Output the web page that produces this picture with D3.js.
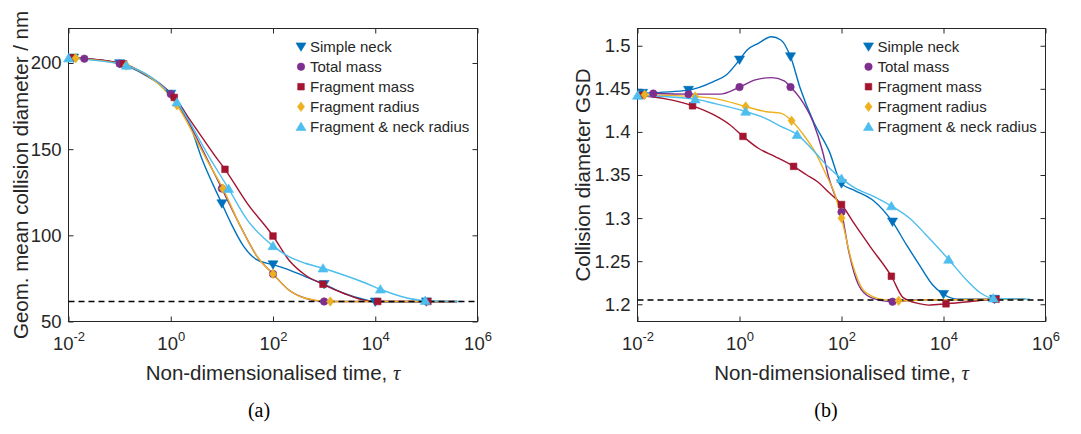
<!DOCTYPE html>
<html>
<head>
<meta charset="utf-8">
<script src="https://cdn.jsdelivr.net/npm/d3@7"></script>
<style>
  body { margin: 0; background: #fff; }
  svg { display: block; }
  text { font-family: "Liberation Sans", Arial, sans-serif; fill: #262626; }
</style>
</head>
<body>
<svg id="fig" width="1081" height="434"></svg>
<script>
// ---- series definitions ----
const seriesNames   = ["Simple neck", "Total mass", "Fragment mass", "Fragment radius", "Fragment & neck radius"];
const seriesColors  = ["#0072BD", "#7E2F8E", "#A2142F", "#EDB120", "#4DBEEE"];
const seriesSymbols = ["triDown", "circle", "square", "diamond", "triUp"];

// times at which each model was sampled (marker positions)
const markTauNeck = [0.0126, 0.1, 1, 10, 100, 1000, 10000, 100000];
const markTauMass = [0.0204, 0.1, 1, 10, 100, 1000];
const markTauFrag = [0.012, 0.12, 1.17, 11.5, 100, 950, 11200, 107000];
const markTauRad  = [0.0138, 0.135, 1.32, 10.5, 100, 1320];
const markTauFnr  = [0.01, 0.135, 1.32, 13.5, 100, 950, 12600, 95000];

// ---- (a) geometric mean collision diameter / nm ----
const diamTauNeck = [0.0126, 0.1, 0.316, 1, 2.0, 4.17, 10, 15.1, 26.9, 49, 100, 204, 427, 1000, 2400, 6610, 10000, 100000, 398000];
const diamNeck    = [203, 199.7, 193, 182, 170, 143.5, 118.4, 106.9, 93.4, 85.7, 83, 80, 76, 71.6, 66.4, 62.5, 61.4, 61.5, 61.5];
const diamTauMass = [0.0204, 0.1, 0.316, 1, 2.0, 5.01, 10, 23.4, 49, 100, 204, 427, 1000, 3160, 398000];
const diamMass    = [202.5, 199.6, 193.5, 182, 168, 145, 127.1, 104.9, 87.6, 77.6, 68.3, 63.5, 61.6, 61.6, 61.6];
const diamTauFrag = [0.012, 0.12, 0.316, 1.17, 2.51, 8.51, 11.5, 31.6, 100, 204, 427, 950, 2400, 6610, 11200, 107000, 398000];
const diamFrag    = [203, 199.5, 193.5, 180, 166, 143.5, 138.3, 118.4, 99.6, 85.7, 77, 71.6, 66.4, 62.1, 61.6, 61.6, 61.6];
const diamTauRad  = [0.0138, 0.135, 1.32, 5.13, 10.5, 23.4, 49, 100, 204, 427, 1320, 10000, 398000];
const diamRad     = [202.8, 198.5, 175.5, 143.5, 127.1, 104.9, 87.6, 77.6, 68.3, 63.5, 61.6, 61.6, 61.6];
const diamTauFnr  = [0.01, 0.135, 1.32, 6.17, 13.5, 31.6, 100, 204, 427, 950, 2400, 6610, 12600, 32400, 95000, 501000];
const diamFnr     = [202.8, 198.5, 177.2, 143.5, 127.1, 108.8, 93.9, 87.6, 83.8, 80.9, 77, 72.2, 68.7, 64.5, 62.1, 61.6];
const diamPlateau = 61.6;
const diamTicks   = [50, 100, 150, 200];

// ---- (b) collision diameter GSD ----
const gsdTauNeck = [0.0126, 0.1, 0.309, 0.55, 1, 1.41, 2.34, 4.22, 6.46, 10, 15.5, 28.2, 57.5, 100, 182, 437, 1000, 1860, 3310, 6030, 10000, 19100, 100000, 398000];
const gsdNeck    = [1.445, 1.4485, 1.4584, 1.466, 1.4836, 1.495, 1.5028, 1.5105, 1.5067, 1.4874, 1.4507, 1.412, 1.3774, 1.34, 1.332, 1.3196, 1.2956, 1.2694, 1.2463, 1.223, 1.2116, 1.206, 1.206, 1.206];
const gsdTauMass = [0.0204, 0.1, 0.417, 1, 2.04, 4.22, 7.52, 10, 15.5, 27.5, 42.7, 57.5, 75.9, 100, 138, 214, 380, 1000, 3160, 398000];
const gsdMass    = [1.4445, 1.4438, 1.4438, 1.452, 1.4604, 1.463, 1.4593, 1.452, 1.439, 1.412, 1.377, 1.345, 1.325, 1.307, 1.262, 1.223, 1.2077, 1.203, 1.205, 1.206];
const gsdTauFrag = [0.012, 0.0355, 0.12, 0.309, 0.646, 1.17, 2.34, 4.9, 11.5, 20.9, 32.4, 56.2, 100, 182, 380, 950, 1620, 3310, 5130, 11200, 31600, 107000, 398000];
const gsdFrag    = [1.4423, 1.4384, 1.4303, 1.42, 1.4083, 1.3948, 1.381, 1.3716, 1.36, 1.35, 1.343, 1.33, 1.3157, 1.2926, 1.2655, 1.2325, 1.2077, 1.2007, 1.199, 1.2005, 1.203, 1.2058, 1.206];
const gsdTauRad  = [0.0138, 0.135, 0.355, 1.32, 3.16, 6.46, 10.5, 17.8, 32.4, 50.1, 70.8, 100, 158, 282, 589, 1320, 3980, 398000];
const gsdRad     = [1.443, 1.441, 1.4384, 1.4295, 1.4237, 1.4218, 1.413, 1.397, 1.3736, 1.35, 1.331, 1.3, 1.25, 1.215, 1.206, 1.204, 1.205, 1.206];
const gsdTauFnr  = [0.01, 0.135, 0.309, 1.32, 3.16, 6.46, 13.5, 27.5, 57.5, 100, 182, 437, 950, 2140, 4470, 12600, 29500, 52500, 95000, 501000];
const gsdFnr     = [1.4423, 1.438, 1.4333, 1.4237, 1.416, 1.4064, 1.3968, 1.379, 1.358, 1.3458, 1.335, 1.325, 1.314, 1.3, 1.281, 1.252, 1.227, 1.2134, 1.207, 1.206];
const gsdPlateau = 1.205;
const gsdTicks   = [1.2, 1.25, 1.3, 1.35, 1.4, 1.45, 1.5];

// ---- shared x axis ----
const tauDomain = [1e-2, 1e6];
const tauTicks  = [1e-2, 1e0, 1e2, 1e4, 1e6];
const tauExps   = ["-2", "0", "2", "4", "6"];

const zip = (t, v) => t.map((d, i) => [d, v[i]]);
const markTaus = [markTauNeck, markTauMass, markTauFrag, markTauRad, markTauFnr];

const panels = [
  {
    left: 68.5, right: 477.5, yDomain: [50, 220], yTicks: diamTicks,
    series: [zip(diamTauNeck, diamNeck), zip(diamTauMass, diamMass), zip(diamTauFrag, diamFrag), zip(diamTauRad, diamRad), zip(diamTauFnr, diamFnr)],
    plateau: diamPlateau,
    ylabel: "Geom. mean collision diameter / nm", ylabelX: 28,
    caption: "(a)", captionX: 259, legendX: 301
  },
  {
    left: 637.5, right: 1045.5, yDomain: [1.18, 1.52], yTicks: gsdTicks,
    series: [zip(gsdTauNeck, gsdNeck), zip(gsdTauMass, gsdMass), zip(gsdTauFrag, gsdFrag), zip(gsdTauRad, gsdRad), zip(gsdTauFnr, gsdFnr)],
    plateau: gsdPlateau,
    ylabel: "Collision diameter GSD", ylabelX: 590,
    caption: "(b)", captionX: 826, legendX: 868.5
  }
];

const plotTop = 28.5, plotBottom = 321.5;
const axisColor = "#262626";

function markerPath(sym) {
  switch (sym) {
    case "triDown": return "M-5,-3.8L5,-3.8L0,4.6Z";
    case "triUp":   return "M-5,3.8L5,3.8L0,-4.6Z";
    case "circle":  return d3.symbol(d3.symbolCircle, 44)();
    case "square":  return "M-3.3,-3.3H3.3V3.3H-3.3Z";
    case "diamond": return "M0,-4.8L3.6,0L0,4.8L-3.6,0Z";
  }
}

const svg = d3.select("#fig");

panels.forEach(p => {
  const x = d3.scaleLog().domain(tauDomain).range([p.left, p.right]);
  const y = d3.scaleLinear().domain(p.yDomain).range([plotBottom, plotTop]);
  const g = svg.append("g");

  // axes: ticks point inward on all four sides
  const bx = g.append("g").attr("transform", `translate(0,${plotBottom})`)
    .call(d3.axisBottom(x).tickValues(tauTicks).tickSizeInner(-5).tickSizeOuter(0).tickPadding(8).tickFormat(""));
  bx.selectAll(".tick text").each(function(d, i) {
    const t = d3.select(this).attr("font-size", 18.5).attr("dy", "1.1em").attr("fill", axisColor);
    t.append("tspan").text("10");
    t.append("tspan").text(tauExps[i]).attr("font-size", 13).attr("dy", -9);
  });
  g.append("g").attr("transform", `translate(0,${plotTop})`)
    .call(d3.axisTop(x).tickValues(tauTicks).tickSizeInner(-5).tickSizeOuter(0).tickFormat(""));
  const ly = g.append("g").attr("transform", `translate(${p.left},0)`)
    .call(d3.axisLeft(y).tickValues(p.yTicks).tickSizeInner(-5).tickSizeOuter(0).tickPadding(7).tickFormat(d => String(d)));
  ly.selectAll(".tick text").attr("font-size", 18.5).attr("fill", axisColor);
  g.append("g").attr("transform", `translate(${p.right},0)`)
    .call(d3.axisRight(y).tickValues(p.yTicks).tickSizeInner(-5).tickSizeOuter(0).tickFormat(""));
  g.selectAll(".domain").remove();
  g.selectAll(".tick line").attr("stroke", axisColor);
  g.selectAll("g").attr("font-family", null);
  g.append("rect")
    .attr("x", p.left).attr("y", plotTop)
    .attr("width", p.right - p.left).attr("height", plotBottom - plotTop)
    .attr("fill", "none").attr("stroke", axisColor).attr("stroke-width", 1);

  // model curves
  const line = d3.line().x(d => x(d[0])).y(d => y(d[1])).curve(d3.curveMonotoneX);
  p.series.forEach((s, i) => {
    g.append("path").datum(s)
      .attr("d", line)
      .attr("fill", "none")
      .attr("stroke", seriesColors[i])
      .attr("stroke-width", 1.4);
  });

  // final (self-preserving) value
  g.append("line")
    .attr("x1", p.left).attr("x2", p.right)
    .attr("y1", y(p.plateau)).attr("y2", y(p.plateau))
    .attr("stroke", "#000").attr("stroke-width", 1.6).attr("stroke-dasharray", "6,4");

  // sampled points
  p.series.forEach((s, i) => {
    const pts = s.filter(d => markTaus[i].includes(d[0]));
    g.selectAll(null).data(pts).enter().append("path")
      .attr("d", markerPath(seriesSymbols[i]))
      .attr("transform", d => `translate(${x(d[0])},${y(d[1])})`)
      .attr("fill", seriesColors[i])
      .attr("stroke", seriesColors[i])
      .attr("stroke-width", 0.6);
  });

  // legend
  const lg = g.append("g");
  seriesNames.forEach((name, i) => {
    const cy = 46.7 + i * 20;
    lg.append("path").attr("d", markerPath(seriesSymbols[i]))
      .attr("transform", `translate(${p.legendX},${cy})`)
      .attr("fill", seriesColors[i]).attr("stroke", seriesColors[i]).attr("stroke-width", 0.6);
    lg.append("text").attr("x", p.legendX + 9).attr("y", cy + 5.5)
      .attr("font-size", 15).text(name);
  });

  // axis titles
  const xl = g.append("text")
    .attr("x", (p.left + p.right) / 2).attr("y", 380)
    .attr("text-anchor", "middle").attr("font-size", 20.5);
  xl.append("tspan").text("Non-dimensionalised time, ");
  xl.append("tspan").text("τ")
    .style("font-family", "'Liberation Serif', 'DejaVu Serif', serif")
    .style("font-style", "italic");
  g.append("text")
    .attr("transform", `translate(${p.ylabelX},${(plotTop + plotBottom) / 2}) rotate(-90)`)
    .attr("text-anchor", "middle").attr("font-size", 20.5)
    .text(p.ylabel);

  g.append("text")
    .attr("x", p.captionX).attr("y", 417)
    .attr("text-anchor", "middle").attr("font-size", 20)
    .style("font-family", "'Liberation Serif', 'Times New Roman', serif")
    .style("fill", "#000")
    .text(p.caption);
});
</script>
</body>
</html>
